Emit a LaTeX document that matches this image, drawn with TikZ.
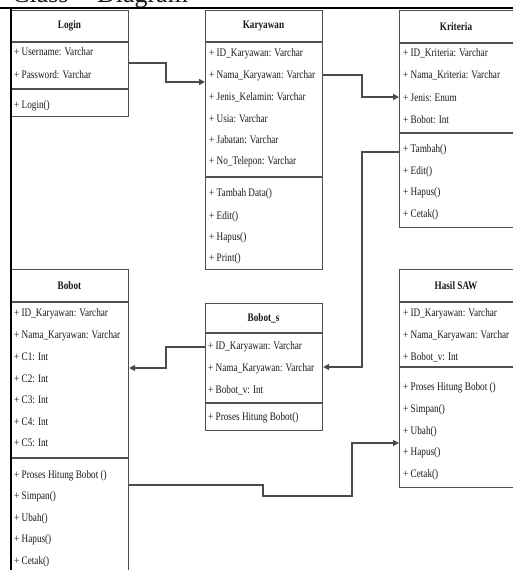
\documentclass[tikz,border=0pt]{standalone}
\usepackage{fontspec}
\setmainfont{Liberation Serif}[FakeStretch=0.8]
\newfontfamily\headfont{Liberation Serif}
\usetikzlibrary{arrows.meta}
\definecolor{boxgray}{HTML}{505050}
\definecolor{linegray}{HTML}{4A4A4A}
\definecolor{textc}{HTML}{1A1A1A}
\tikzset{
  umlbox/.style={draw=boxgray, line width=1.1pt, anchor=north west, inner sep=0pt},
  sepline/.style={draw=boxgray, line width=1.1pt},
  ctitle/.style={font=\fontsize{11.5}{13}\selectfont\bfseries, inner sep=0pt, text=textc},
  row/.style={font=\fontsize{11.5}{13}\selectfont, anchor=west, inner sep=0pt, text=textc},
  conn/.style={draw=linegray, line width=1.3pt, -{Triangle[length=6pt,width=6pt]}},
  frameline/.style={draw=black, line width=2.4pt}
}
\begin{document}
\begin{tikzpicture}[x=1pt,y=-1pt]
\useasboundingbox (0,0) rectangle (513,570);
\clip (0,0) rectangle (513,570);
\fill[white] (0,0) rectangle (513,570);

% heading (cut off at the top, as in the reference)
\node[anchor=base west, inner sep=0pt, font=\headfont\fontsize{26}{26}\selectfont, text=textc] (heading) at (12,2) {Class\hspace{22pt} Diagram};

% ---------- Login ----------
\node[umlbox, minimum width=117pt, minimum height=106pt] (login) at (11,10) {};
\draw[sepline] (login.west |- 0,42) -- (login.east |- 0,42);
\draw[sepline] (login.west |- 0,89) -- (login.east |- 0,89);
\node[ctitle] (login-t) at (69.5,26) {Login};
\foreach \y/\t [count=\i] in {52/{+ Username: Varchar}, 75/{+ Password: Varchar}, 106/{+ Login()}}
  \node[row] (login-\i) at (14,\y) {\t};

% ---------- Karyawan ----------
\node[umlbox, minimum width=117pt, minimum height=259pt] (karyawan) at (205,10) {};
\draw[sepline] (karyawan.west |- 0,42) -- (karyawan.east |- 0,42);
\draw[sepline] (karyawan.west |- 0,177) -- (karyawan.east |- 0,177);
\node[ctitle] (karyawan-t) at (263.5,26) {Karyawan};
\foreach \y/\t [count=\i] in {54/{+ ID\_Karyawan: Varchar}, 75.5/{+ Nama\_Karyawan: Varchar}, 97/{+ Jenis\_Kelamin: Varchar}, 118.5/{+ Usia: Varchar}, 140/{+ Jabatan: Varchar}, 161.5/{+ No\_Telepon: Varchar}, 194/{+ Tambah Data()}, 216.5/{+ Edit()}, 238/{+ Hapus()}, 259/{+ Print()}}
  \node[row] (karyawan-\i) at (209,\y) {\t};

% ---------- Kriteria ----------
\node[umlbox, minimum width=117pt, minimum height=217pt] (kriteria) at (399,10) {};
\draw[sepline] (kriteria.west |- 0,43) -- (kriteria.east |- 0,43);
\draw[sepline] (kriteria.west |- 0,133) -- (kriteria.east |- 0,133);
\node[ctitle] (kriteria-t) at (456,26.5) {Kriteria};
\foreach \y/\t [count=\i] in {53.5/{+ ID\_Kriteria: Varchar}, 75.5/{+ Nama\_Kriteria: Varchar}, 98/{+ Jenis: Enum}, 120/{+ Bobot: Int}, 150/{+ Tambah()}, 171.5/{+ Edit()}, 193/{+ Hapus()}, 214.5/{+ Cetak()}}
  \node[row] (kriteria-\i) at (403,\y) {\t};

% ---------- Bobot ----------
\node[umlbox, minimum width=117pt, minimum height=310pt] (bobot) at (11,269) {};
\draw[sepline] (bobot.west |- 0,302) -- (bobot.east |- 0,302);
\draw[sepline] (bobot.west |- 0,458) -- (bobot.east |- 0,458);
\node[ctitle] (bobot-t) at (69.5,285.5) {Bobot};
\foreach \y/\t [count=\i] in {313.5/{+ ID\_Karyawan: Varchar}, 335.5/{+ Nama\_Karyawan: Varchar}, 357/{+ C1: Int}, 378.5/{+ C2: Int}, 400/{+ C3: Int}, 421.5/{+ C4: Int}, 443/{+ C5: Int}, 476/{+ Proses Hitung Bobot ()}, 497/{+ Simpan()}, 518.5/{+ Ubah()}, 540/{+ Hapus()}, 561.5/{+ Cetak()}}
  \node[row] (bobot-\i) at (14,\y) {\t};

% ---------- Bobot_s ----------
\node[umlbox, minimum width=117pt, minimum height=127pt] (bobots) at (205,303) {};
\draw[sepline] (bobots.west |- 0,333) -- (bobots.east |- 0,333);
\draw[sepline] (bobots.west |- 0,403) -- (bobots.east |- 0,403);
\node[ctitle] (bobots-t) at (263.5,318) {Bobot\_s};
\foreach \y/\t [count=\i] in {347/{+ ID\_Karyawan: Varchar}, 368.5/{+ Nama\_Karyawan: Varchar}, 390/{+ Bobot\_v: Int}, 418/{+ Proses Hitung Bobot()}}
  \node[row] (bobots-\i) at (208,\y) {\t};

% ---------- Hasil SAW ----------
\node[umlbox, minimum width=117pt, minimum height=218pt] (hasil) at (399,269) {};
\draw[sepline] (hasil.west |- 0,302) -- (hasil.east |- 0,302);
\draw[sepline] (hasil.west |- 0,367) -- (hasil.east |- 0,367);
\node[ctitle] (hasil-t) at (456,285.5) {Hasil SAW};
\foreach \y/\t [count=\i] in {313.5/{+ ID\_Karyawan: Varchar}, 335.5/{+ Nama\_Karyawan: Varchar}, 357/{+ Bobot\_v: Int}, 388/{+ Proses Hitung Bobot ()}, 410/{+ Simpan()}, 431.5/{+ Ubah()}, 453/{+ Hapus()}, 474.5/{+ Cetak()}}
  \node[row] (hasil-\i) at (403,\y) {\t};

% ---------- connectors ----------
\draw[conn] (login.east |- 0,63) -- (166,63) -- (166,82) -- (karyawan.west |- 0,82);
\draw[conn] (karyawan.east |- 0,75) -- (362,75) -- (362,97) -- (kriteria.west |- 0,97);
\draw[conn] (kriteria.west |- 0,152) -- (362,152) -- (362,367) -- (bobots.east |- 0,367);
\draw[conn] (bobots.west |- 0,347) -- (166,347) -- (166,368) -- (bobot.east |- 0,368);
\draw[conn] (bobot.east |- 0,485) -- (263,485) -- (263,496) -- (352,496) -- (352,443) -- (hasil.west |- 0,443);

% ---------- outer frame lines ----------
\draw[frameline] (0,8) -- (513,8);
\draw[frameline] (11,8) -- (11,570);
\end{tikzpicture}
\end{document}
